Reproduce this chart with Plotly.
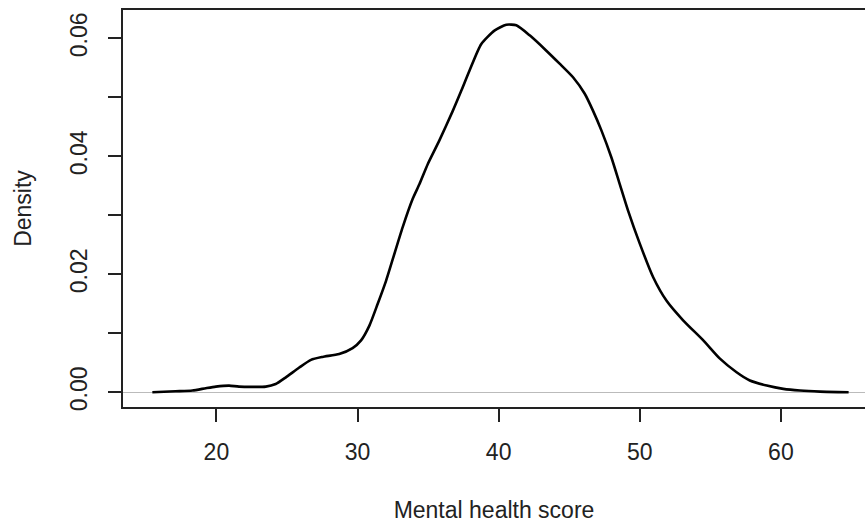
import plotly.graph_objects as go

# Density curve of mental health score
score = [15.46, 17.1, 18.3, 19.25, 19.96, 20.9, 21.6, 23.5, 24.2, 24.9, 25.87, 26.7,
         27.52, 28.7, 29.65, 30.25, 30.84, 31.43, 32.02, 32.5, 33.2, 33.91, 34.39,
         34.98, 35.8, 36.75, 37.35, 37.93, 38.76, 39.7, 40.54, 41.25, 42.2, 43.38,
         44.32, 45.27, 46.1, 46.69, 47.28, 47.99, 48.58, 49.17, 50.0, 50.95, 51.9,
         53.07, 54.5, 55.68, 56.86, 57.8, 59.0, 60.17, 61.35, 62.78, 64.8]
density = [0.0, 0.00017, 0.0003, 0.0007, 0.00097, 0.00114, 0.00097, 0.00097, 0.0014,
           0.0025, 0.0042, 0.0055, 0.006, 0.0065, 0.0075, 0.0088, 0.0113, 0.015,
           0.0189, 0.0226, 0.028, 0.0328, 0.0353, 0.0387, 0.0427, 0.0477, 0.0511,
           0.0545, 0.059, 0.0613, 0.0623, 0.0622, 0.0605, 0.0579, 0.0557, 0.0534,
           0.0506, 0.0477, 0.0444, 0.0398, 0.0353, 0.0308, 0.0252, 0.0195, 0.0155,
           0.0122, 0.0088, 0.0057, 0.0034, 0.002, 0.00114, 0.00058, 0.0003,
           0.00012, 0.0]

x_ticks = [20, 30, 40, 50, 60]
y_ticks = [0.0, 0.01, 0.02, 0.03, 0.04, 0.05, 0.06]
y_tick_labels = ["0.00", "", "0.02", "", "0.04", "", "0.06"]

FONT = "Liberation Sans, Arial, sans-serif"

fig = go.Figure()
fig.add_trace(go.Scatter(x=score, y=density, mode="lines",
                         line=dict(color="black", width=2.6, shape="spline", smoothing=0.6),
                         hoverinfo="skip", showlegend=False))

fig.update_layout(
    width=865, height=525,
    margin=dict(l=123, r=0, t=10, b=118),
    paper_bgcolor="white", plot_bgcolor="white",
    font=dict(family=FONT, size=23, color="#222222"),
    xaxis=dict(
        range=[13.38, 65.96], tickvals=x_ticks, ticktext=[str(v) for v in x_ticks],
        ticks="outside", ticklen=13, tickwidth=1.5, tickcolor="#222222",
        showline=True, linecolor="#222222", linewidth=1.5, mirror=True,
        showgrid=False, zeroline=False, ticklabelstandoff=11,
        title=dict(text="Mental health score", standoff=38, font=dict(size=23)),
    ),
    yaxis=dict(
        range=[-0.00249, 0.0648], tickvals=y_ticks, ticktext=y_tick_labels,
        tickangle=-90,
        ticks="outside", ticklen=13, tickwidth=1.5, tickcolor="#222222",
        showline=True, linecolor="#222222", linewidth=1.5, mirror=False,
        showgrid=False, zeroline=True, zerolinecolor="#bbbbbb", zerolinewidth=1.2,
        ticklabelstandoff=12,
        title=dict(text="Density", standoff=28, font=dict(size=23)),
    ),
)

fig.write_html("out.html")
